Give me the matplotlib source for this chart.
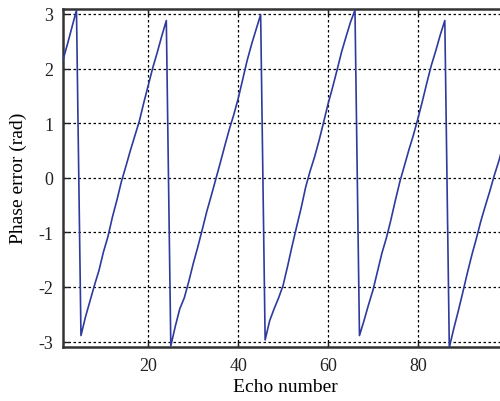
import matplotlib.pyplot as plt
import numpy as np
from matplotlib.ticker import FuncFormatter

# Echo number and measured phase error (wrapped, rad)
echo = np.arange(1, 101)
phase_err = [
    2.16, 2.45, 2.76, 3.07,
    -2.89, -2.55, -2.26, -1.97, -1.70, -1.36, -1.08, -0.72, -0.41, -0.07,
    0.21, 0.50, 0.77, 1.04, 1.38, 1.70, 2.02, 2.30, 2.60, 2.88,
    -3.08, -2.72, -2.40, -2.20, -1.90, -1.57, -1.27, -0.95, -0.62, -0.33,
    -0.03, 0.27, 0.58, 0.88, 1.15, 1.45, 1.80, 2.15, 2.45, 2.72, 2.99,
    -2.97, -2.62, -2.40, -2.20, -1.97, -1.62, -1.25, -0.90, -0.56, -0.18,
    0.12, 0.38, 0.68, 1.01, 1.35, 1.65, 1.97, 2.30, 2.58, 2.85, 3.07,
    -2.89, -2.62, -2.33, -2.06, -1.72, -1.38, -1.10, -0.77, -0.41, -0.07,
    0.22, 0.51, 0.78, 1.08, 1.40, 1.74, 2.06, 2.33, 2.62, 2.88,
    -3.11, -2.76, -2.44, -2.10, -1.75, -1.42, -1.12, -0.80, -0.52, -0.25,
    0.04, 0.30, 0.60, 0.90,
]
xticks = [20, 40, 60, 80]
yticks = [-3, -2, -1, 0, 1, 2, 3]

plt.rcParams['font.family'] = ['Liberation Serif', 'DejaVu Serif']
plt.rcParams['font.size'] = 13

fig = plt.figure(figsize=(5.0, 4.02), dpi=100)
# axes run a little past the right edge (reference is cropped there)
ax = fig.add_axes([0.126, 0.1343, 0.8894, 0.842])

ax.plot(echo, phase_err, color='#2e3a9c', lw=1.2, zorder=3)

ax.set_xlim(1, 100)
ax.set_ylim(-3.1, 3.1)
ax.set_xticks(xticks)
ax.set_yticks(yticks)
ax.yaxis.set_major_formatter(FuncFormatter(lambda v, p: '%d' % v))
ax.tick_params(direction='in', length=4, width=1, top=True, right=True,
               pad=7, colors='#222222', labelcolor='#222222', labelsize=13)
ax.grid(True, color='black', ls=(0, (2, 2)), lw=0.9)
for s in ax.spines.values():
    s.set_linewidth(1.8)
    s.set_color('#333333')

ax.set_xlabel('Echo number', fontsize=14, labelpad=3)
ax.set_ylabel('Phase error (rad)', fontsize=14, labelpad=8)

fig.savefig('out.png', dpi=100)
